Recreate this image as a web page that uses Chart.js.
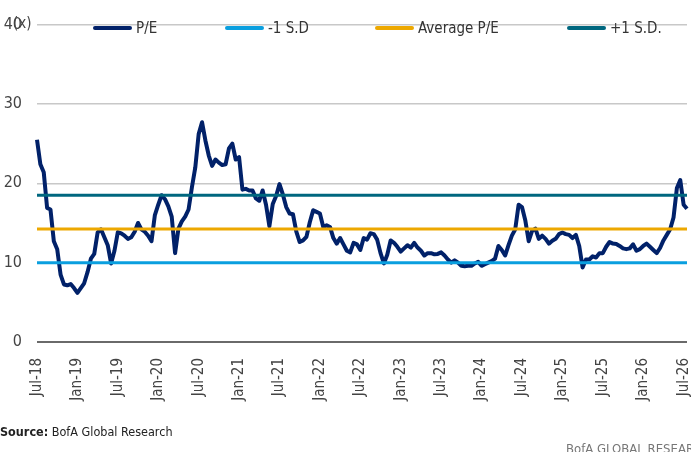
<!DOCTYPE html>
<html>
<head>
<meta charset="utf-8">
<script src="https://cdn.jsdelivr.net/npm/chart.js@4.4.1/dist/chart.umd.min.js"></script>
<style>
  body { margin: 0; background: #fff; }
  #wrap { position: relative; width: 691px; height: 452px; overflow: hidden;
          font-family: 'Liberation Sans Narrow', 'DejaVu Sans Condensed', sans-serif; color: #333; }
  #wrap canvas { position: absolute; left: 0; top: 0; }
  .unit { position: absolute; left: 13px; top: 14px; font-size: 15px; color: #444; }
  .item { position: absolute; top: 19px; display: flex; align-items: center; font-size: 15px; color: #333; white-space: nowrap; }
  .swatch { width: 39px; height: 4px; border-radius: 2px; margin-right: 4px; }
  .source { position: absolute; left: 0; top: 424px; font-size: 12.5px; color: #222; white-space: nowrap; }
  .brand { position: absolute; left: 566px; top: 441px; font-size: 13px; color: #777; white-space: nowrap; }
</style>
</head>
<body>
<div id="wrap">
  <canvas id="canvas" width="691" height="452"></canvas>
  <div class="unit">(x)</div>
  <div id="legend"></div>
  <div class="source"><b>Source:</b> BofA Global Research</div>
  <div class="brand">BofA GLOBAL RESEARCH</div>
</div>
<script>
// half-year tick labels, one every 12 semi-monthly points
var tickLabels = ["Jul-18", "Jan-19", "Jul-19", "Jan-20", "Jul-20", "Jan-21", "Jul-21", "Jan-22",
                  "Jul-22", "Jan-23", "Jul-23", "Jan-24", "Jul-24", "Jan-25", "Jul-25", "Jan-26", "Jul-26"];

// P/E, semi-monthly from Jul-18
var pe = [
  25.5, 22.4, 21.4, 16.9, 16.7, 12.7, 11.7, 8.5, 7.25, 7.15,
  7.3, 6.8, 6.2, 6.8, 7.4, 8.8, 10.5, 11.1, 13.8, 14.2,
  13.2, 12.2, 9.9, 11.5, 13.85, 13.7, 13.4, 13.0, 13.2, 13.9,
  15.0, 14.2, 13.9, 13.4, 12.7, 16.0, 17.3, 18.5, 18.0, 17.1,
  15.8, 11.2, 14.3, 15.2, 15.8, 16.7, 19.5, 22.0, 26.2, 27.7,
  25.4, 23.5, 22.2, 23.0, 22.6, 22.3, 22.4, 24.4, 25.0, 23.0,
  23.3, 19.2, 19.3, 19.1, 19.1, 18.1, 17.8, 19.1, 17.3, 14.6,
  17.4, 18.4, 19.9, 18.6, 17.0, 16.2, 16.1, 13.9, 12.6, 12.8,
  13.25, 15.1, 16.6, 16.4, 16.2, 14.5, 14.7, 14.5, 13.1, 12.4,
  13.1, 12.3, 11.5, 11.3, 12.5, 12.3, 11.6, 13.1, 12.9, 13.7,
  13.6, 12.9, 11.2, 9.9, 11.0, 12.8, 12.5, 12.0, 11.4, 11.8,
  12.2, 11.9, 12.5, 11.9, 11.5, 10.9, 11.2, 11.2, 11.05, 11.1,
  11.3, 10.9, 10.4, 10.0, 10.3, 10.0, 9.6, 9.55, 9.6, 9.6,
  9.9, 10.1, 9.6, 9.8, 10.0, 10.2, 10.5, 12.1, 11.6, 10.9,
  12.2, 13.4, 14.2, 17.3, 17.0, 15.3, 12.7, 14.0, 14.3, 13.0,
  13.4, 13.0, 12.4, 12.75, 13.0, 13.6, 13.8, 13.6, 13.5, 13.1,
  13.5, 12.1, 9.4, 10.4, 10.4, 10.8, 10.65, 11.2, 11.2, 12.0,
  12.6, 12.4, 12.35, 12.1, 11.8, 11.7, 11.8, 12.3, 11.5, 11.7,
  12.1, 12.4, 12.0, 11.6, 11.2, 11.85, 12.8, 13.5, 14.2, 15.7,
  19.4, 20.4, 17.3, 16.8
];

var minus1SD = 10.0;
var avgPE = 14.25;
var plus1SD = 18.5;

var monthNames = ["Jan", "Feb", "Mar", "Apr", "May", "Jun", "Jul", "Aug", "Sep", "Oct", "Nov", "Dec"];
var dates = pe.map(function (v, i) {
  var m = 6 + Math.floor(i / 2);
  return (i % 2 ? "mid " : "") + monthNames[m % 12] + "-" + (18 + Math.floor(m / 12));
});

function flat(v) { return pe.map(function () { return v; }); }

Chart.defaults.font.family = "'Liberation Sans Narrow', 'DejaVu Sans Condensed', sans-serif";
Chart.defaults.color = "#444";

var ctx = document.getElementById("canvas").getContext("2d");
var chart = new Chart(ctx, {
  type: "line",
  data: {
    labels: dates,
    datasets: [
      { label: "P/E", data: pe, borderColor: "#012169", borderWidth: 4, order: 4 },
      { label: "-1 S.D", data: flat(minus1SD), borderColor: "#0a9fdf", borderWidth: 3, order: 3 },
      { label: "Average P/E", data: flat(avgPE), borderColor: "#eda800", borderWidth: 3, order: 2 },
      { label: "+1 S.D.", data: flat(plus1SD), borderColor: "#00677f", borderWidth: 3, order: 1 }
    ]
  },
  options: {
    responsive: false,
    animation: false,
    layout: { padding: { top: 13, right: 4, left: 0, bottom: 0 } },
    elements: {
      point: { radius: 0 },
      line: { tension: 0, borderJoinStyle: "round", borderCapStyle: "butt" }
    },
    plugins: { legend: { display: false }, tooltip: { enabled: false } },
    scales: {
      x: {
        grid: { display: false },
        border: { display: false },
        ticks: {
          autoSkip: false,
          minRotation: 90,
          maxRotation: 90,
          padding: 8,
          font: { size: 15 },
          callback: function (v, i) { return i % 12 === 0 ? tickLabels[i / 12] : ""; }
        },
        afterFit: function (scale) {
          scale.height = 110;
          scale.paddingLeft = 0;
          scale.paddingRight = 0;
        }
      },
      y: {
        min: 0,
        max: 40,
        ticks: { stepSize: 10, padding: 15, font: { size: 16 } },
        border: { display: false },
        grid: {
          drawTicks: false,
          color: function (c) { return c.tick.value === 0 ? "#6a6a6a" : "#c8c8c8"; },
          lineWidth: function (c) { return c.tick.value === 0 ? 2 : 1.5; }
        },
        afterFit: function (scale) { scale.width = 37; }
      }
    }
  }
});

// legend sits inside the plot, like the original
var legendLeft = [93, 225, 375, 567];
var legend = document.getElementById("legend");
chart.data.datasets.forEach(function (ds, i) {
  var item = document.createElement("div");
  item.className = "item";
  item.style.left = legendLeft[i] + "px";
  item.innerHTML = '<span class="swatch" style="background:' + ds.borderColor + '"></span>' + ds.label;
  legend.appendChild(item);
});
</script>
</body>
</html>
